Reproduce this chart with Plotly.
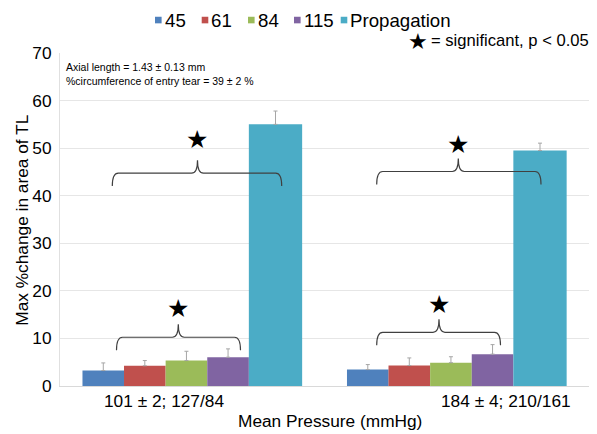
import plotly.graph_objects as go

# ---- data ----
pressure_labels = ["101 ± 2; 127/84", "184 ± 4; 210/161"]
categories = ["low", "high"]
series_names = ["45", "61", "84", "115", "Propagation"]
values = {
    "45": [3.25, 3.45],
    "61": [4.25, 4.3],
    "84": [5.35, 4.9],
    "115": [6.05, 6.7],
    "Propagation": [55.0, 49.5],
}
errors_plus = {
    "45": [1.6, 1.05],
    "61": [1.1, 1.6],
    "84": [1.95, 1.25],
    "115": [1.75, 2.0],
    "Propagation": [2.8, 1.55],
}
y_ticks = [0, 10, 20, 30, 40, 50, 60, 70]

colors = ["#4f81bd", "#c0504d", "#9bbb59", "#8064a2", "#4bacc6"]
offsets = [-0.415, -0.258, -0.1006, 0.0567, 0.214]
widths = [0.1573, 0.1573, 0.1573, 0.1573, 0.2015]

FONT = "Liberation Sans, Arial, sans-serif"
FS = 17.3

fig = go.Figure()
for name, c, off, w in zip(series_names, colors, offsets, widths):
    fig.add_trace(go.Bar(
        x=categories, y=values[name], name=name,
        marker=dict(color=c, line=dict(width=0)),
        offset=off, width=w, showlegend=False,
        error_y=dict(type="data", array=errors_plus[name], symmetric=False,
                     arrayminus=[0, 0], color="#a6a6a6", thickness=1, width=2),
    ))

# window pixel helpers for plot area (x 60..589, y 53..386.5)
L, R, T, B = 60, 589, 53, 386.5
def px(xp):
    return (xp - L) / (R - L)
def py(yp):
    return (B - yp) / (B - T)
def yd(yp):
    return (B - yp) / (B - T) * 70

shapes = []
def brace(x0, x1, xm, yline_px, drop=13, rise=13, r=6):
    yl = yd(yline_px)
    yb = yd(yline_px + drop)
    yt = yd(yline_px - rise)
    path = (f"M {px(x0)},{yb} Q {px(x0)},{yl} {px(x0 + r)},{yl} "
            f"L {px(xm - r)},{yl} Q {px(xm)},{yl} {px(xm)},{yt} "
            f"Q {px(xm)},{yl} {px(xm + r)},{yl} "
            f"L {px(x1 - r)},{yl} Q {px(x1)},{yl} {px(x1)},{yb}")
    shapes.append(dict(type="path", path=path, xref="paper", yref="y",
                       line=dict(color="#404040", width=1.2)))

brace(116.5, 240.5, 178.3, 337.7)
brace(112.3, 281.7, 197.5, 173.3)
brace(376.7, 500.5, 439, 332.7)
brace(376.7, 541, 458.3, 171.7)

annotations = []
for sx, sy in [(177.7, 309), (197.3, 140), (439, 305), (458, 144.3)]:
    annotations.append(dict(x=px(sx), y=py(sy), xref="paper", yref="paper",
                            text="★", showarrow=False,
                            font=dict(family="DejaVu Sans", size=25, color="#000"),
                            xanchor="center", yanchor="middle"))

# custom legend (square + label) placed like the reference
legend_sq_x = [155, 201.7, 248, 294, 340.7]
for name, c, sx in zip(series_names, colors, legend_sq_x):
    shapes.append(dict(type="rect", xref="paper", yref="paper",
                       x0=px(sx), x1=px(sx + 6.6), y0=py(23.3), y1=py(16.7),
                       fillcolor=c, line=dict(width=0)))
    annotations.append(dict(x=px(sx + 7.5), y=py(20), xref="paper", yref="paper",
                            text=name, showarrow=False,
                            font=dict(family=FONT, size=18.67, color="#000"),
                            xanchor="left", yanchor="middle"))

for lbl, cx in zip(pressure_labels, [163.5, 506]):
    annotations.append(dict(x=px(cx), y=py(401.5), xref="paper", yref="paper",
                            text=lbl, showarrow=False,
                            font=dict(family=FONT, size=FS, color="#000"),
                            xanchor="center", yanchor="middle"))

annotations.append(dict(x=px(330), y=py(421.7), xref="paper", yref="paper",
                        text="Mean Pressure (mmHg)", showarrow=False,
                        font=dict(family=FONT, size=FS, color="#000"),
                        xanchor="center", yanchor="middle"))
annotations.append(dict(x=px(22), y=py(221), xref="paper", yref="paper",
                        text="Max %change in area of TL", showarrow=False,
                        textangle=-90,
                        font=dict(family=FONT, size=FS, color="#000"),
                        xanchor="center", yanchor="middle"))
# significance key
annotations.append(dict(x=px(417.5), y=py(41), xref="paper", yref="paper",
                        text="★", showarrow=False,
                        font=dict(family="DejaVu Sans", size=22, color="#000"),
                        xanchor="center", yanchor="middle"))
annotations.append(dict(x=px(429), y=py(40), xref="paper", yref="paper",
                        text="= significant, p < 0.05", showarrow=False,
                        font=dict(family=FONT, size=16.6, color="#000"),
                        xanchor="left", yanchor="middle"))
annotations.append(dict(x=px(64), y=py(59), xref="paper", yref="paper",
                        text="Axial length = 1.43 ± 0.13 mm<br>%circumference of entry tear = 39 ± 2 %",
                        showarrow=False, align="left",
                        font=dict(family=FONT, size=10.5, color="#000"),
                        xanchor="left", yanchor="top"))

# page body has an 8px default margin, so the figure is 8px smaller than the window
OFF = 8
fig.update_layout(
    width=597 - OFF, height=434 - OFF,
    margin=dict(l=L - OFF, r=597 - R, t=T - OFF, b=434 - B),
    paper_bgcolor="white", plot_bgcolor="white",
    barmode="overlay",
    showlegend=False,
    shapes=shapes,
    annotations=annotations,
    xaxis=dict(range=[-0.5, 1.5], showticklabels=False, showgrid=False,
               showline=True, linecolor="#d9d9d9", linewidth=1, ticks=""),
    yaxis=dict(range=[0, 70], tickvals=y_ticks, showgrid=True, gridcolor="#e6e6e6",
               gridwidth=1, zeroline=False, showline=True, linecolor="#e0e0e0",
               ticks="", tickfont=dict(family=FONT, size=FS, color="#000"),
               ticklabelstandoff=4),
)

fig.write_html("out.html")
